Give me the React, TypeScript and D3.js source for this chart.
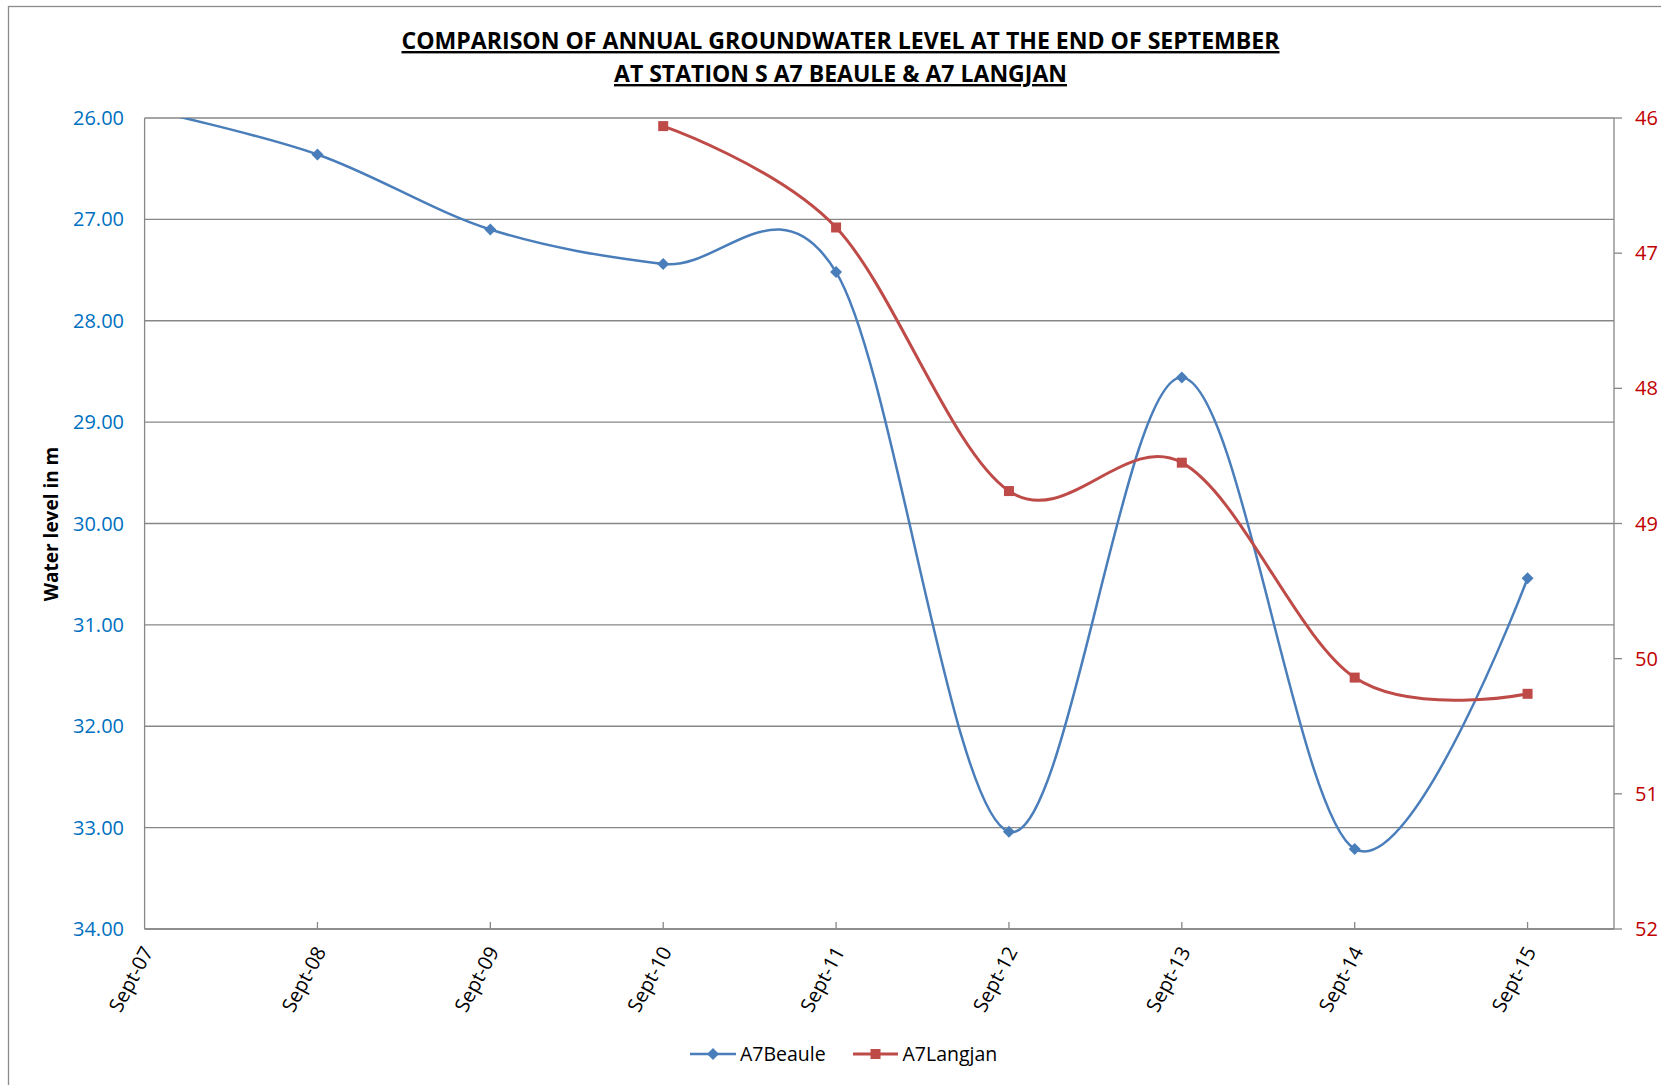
import React from "react";
import * as d3 from "d3";

const categories = ["Sept-07", "Sept-08", "Sept-09", "Sept-10", "Sept-11", "Sept-12", "Sept-13", "Sept-14", "Sept-15"];
const beaule: number[] = [25.91, 26.36, 27.1, 27.44, 27.52, 33.04, 28.56, 33.21, 30.54];
const langjan: (number | null)[] = [null, null, null, 46.06, 46.81, 48.76, 48.55, 50.14, 50.26];
const leftTicks = [26, 27, 28, 29, 30, 31, 32, 33, 34];
const rightTicks = [46, 47, 48, 49, 50, 51, 52];
const titleLines = [
  "COMPARISON OF ANNUAL GROUNDWATER LEVEL AT THE END OF SEPTEMBER",
  "AT STATION S A7 BEAULE & A7 LANGJAN",
];

const W = 1661;
const H = 1085;
const left = 144.6;
const right = 1614;
const top = 118;
const bottom = 929;
const BLUE = "#4A7EBB";
const RED = "#BE4B48";
const GRID = "#878787";
const FONT = "'Open Sans', 'Noto Sans', sans-serif";

export default function App() {
  const x = d3.scaleLinear().domain([0, 8.5]).range([left, right]);
  const yL = d3.scaleLinear().domain([26, 34]).range([top, bottom]);
  const yR = d3.scaleLinear().domain([46, 52]).range([top, bottom]);

  const blueLine = d3
    .line<number>()
    .x((_, i) => x(i))
    .y((d) => yL(d))
    .curve(d3.curveCardinal.tension(0));

  const redPts = langjan
    .map((v, i) => ({ v, i }))
    .filter((p) => p.v !== null) as { v: number; i: number }[];
  const redLine = d3
    .line<{ v: number; i: number }>()
    .x((p) => x(p.i))
    .y((p) => yR(p.v))
    .curve(d3.curveCardinal.tension(0));

  const diamond = (cx: number, cy: number, r: number) =>
    `M${cx},${cy - r}L${cx + r},${cy}L${cx},${cy + r}L${cx - r},${cy}Z`;

  return (
    <svg
      width={W}
      height={H}
      style={{ position: "absolute", left: 0, top: 0, background: "#fff" }}
      xmlns="http://www.w3.org/2000/svg"
    >
      <defs>
        <clipPath id="plotClip">
          <rect x={left} y={top} width={right - left} height={bottom - top} />
        </clipPath>
      </defs>
      <rect x={0} y={0} width={W} height={H} fill="#fff" />
      <rect x={8.5} y={6.5} width={W + 50} height={H + 50} fill="none" stroke="#8c8c8c" strokeWidth={1.3} />

      {/* Title */}
      {titleLines.map((t, i) => (
        <text
          key={i}
          x={840.5}
          y={49 + i * 33}
          textAnchor="middle"
          fontFamily="'Liberation Sans Narrow', 'Open Sans', sans-serif"
          fontWeight="bold"
          fontSize={24}
          textDecoration="underline"
          textLength={i === 0 ? 878 : 453}
          lengthAdjust="spacingAndGlyphs"
          fill="#000"
        >
          {t}
        </text>
      ))}

      {/* Gridlines */}
      {leftTicks.map((t) => (
        <line key={t} x1={left} x2={right} y1={yL(t)} y2={yL(t)} stroke={GRID} strokeWidth={1.3} />
      ))}

      {/* Axes */}
      <line x1={left} x2={left} y1={top} y2={bottom} stroke={GRID} strokeWidth={1.3} />
      <line x1={right} x2={right} y1={top} y2={bottom} stroke={GRID} strokeWidth={1.3} />
      <line x1={left} x2={right} y1={bottom} y2={bottom} stroke={GRID} strokeWidth={1.3} />

      {/* X ticks */}
      {categories.map((c, i) => (
        <g key={c}>
          {i > 0 && <line x1={x(i)} x2={x(i)} y1={bottom} y2={bottom - 7} stroke={GRID} strokeWidth={1.3} />}
          <text
            transform={`translate(${x(i) + 3},${bottom + 19}) rotate(-62)`}
            textAnchor="end"
            fontFamily={FONT}
            fontSize={20}
            fill="#000"
            dy="0.35em"
          >
            {c}
          </text>
        </g>
      ))}

      {/* Left tick labels */}
      {leftTicks.map((t) => (
        <text
          key={t}
          x={124}
          y={yL(t)}
          dy="0.35em"
          textAnchor="end"
          fontFamily={FONT}
          fontSize={20}
          fill="#0070C0"
        >
          {t.toFixed(2)}
        </text>
      ))}

      {/* Right ticks and labels */}
      {rightTicks.map((t) => (
        <g key={t}>
          <line x1={right} x2={right + 8} y1={yR(t)} y2={yR(t)} stroke={GRID} strokeWidth={1.3} />
          <text
            x={1635}
            y={yR(t)}
            dy="0.35em"
            textAnchor="start"
            fontFamily={FONT}
            fontSize={20}
            fill="#C00000"
          >
            {t}
          </text>
        </g>
      ))}

      {/* Y axis title */}
      <text
        transform={`translate(51,524) rotate(-90)`}
        textAnchor="middle"
        dy="0.35em"
        fontFamily={FONT}
        fontWeight="bold"
        fontSize={19}
        fill="#000"
      >
        Water level in m
      </text>

      {/* Series */}
      <g clipPath="url(#plotClip)">
        <path d={blueLine(beaule) || ""} fill="none" stroke={BLUE} strokeWidth={2.5} />
        <path d={redLine(redPts) || ""} fill="none" stroke={RED} strokeWidth={3} />
        {beaule.map((v, i) => (
          <path key={i} d={diamond(x(i), yL(v), 6)} fill={BLUE} />
        ))}
        {redPts.map((p) => (
          <rect key={p.i} x={x(p.i) - 5} y={yR(p.v) - 5} width={10} height={10} fill={RED} />
        ))}
      </g>

      {/* Legend */}
      <g>
        <line x1={690} x2={736} y1={1054} y2={1054} stroke={BLUE} strokeWidth={2.5} />
        <path d={diamond(713, 1054, 6)} fill={BLUE} />
        <text x={740} y={1054} dy="0.35em" fontFamily={FONT} fontSize={19.5} fill="#000">
          A7Beaule
        </text>
        <line x1={853} x2={898} y1={1054} y2={1054} stroke={RED} strokeWidth={3} />
        <rect x={870.5} y={1049} width={10} height={10} fill={RED} />
        <text x={902.5} y={1054} dy="0.35em" fontFamily={FONT} fontSize={19.5} fill="#000">
          A7Langjan
        </text>
      </g>
    </svg>
  );
}
